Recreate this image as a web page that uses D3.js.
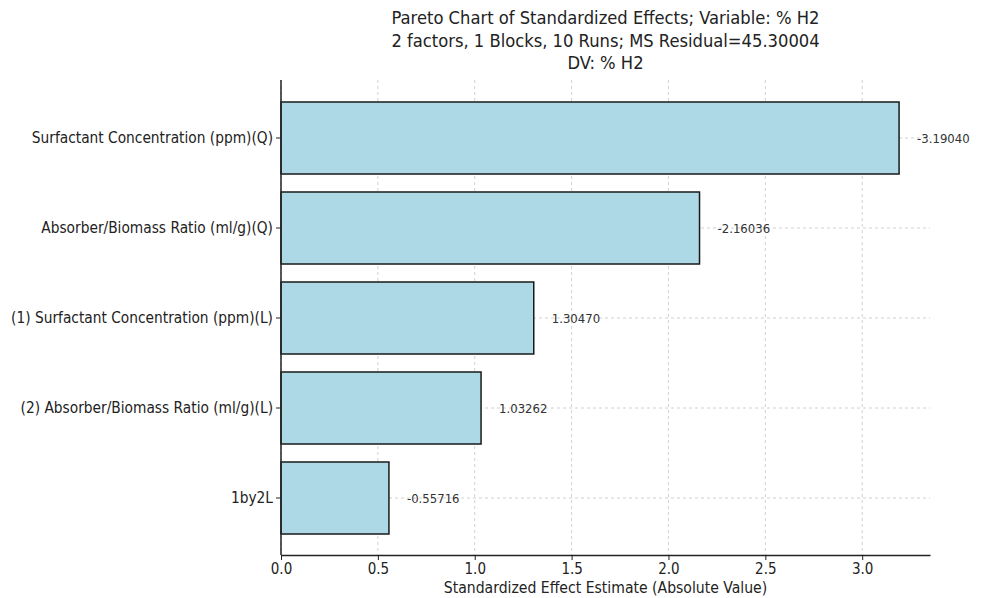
<!DOCTYPE html>
<html>
<head>
<meta charset="utf-8">
<script src="https://cdn.jsdelivr.net/npm/d3@7"></script>
<style>
  body { margin: 0; background: #fff; }
  text { font-family: "DejaVu Sans Condensed", "DejaVu Sans", sans-serif; fill: #222; }
</style>
</head>
<body>
<script>
// effects, sorted by absolute value
const effects = [
  "Surfactant Concentration (ppm)(Q)",
  "Absorber/Biomass Ratio (ml/g)(Q)",
  "(1) Surfactant Concentration (ppm)(L)",
  "(2) Absorber/Biomass Ratio (ml/g)(L)",
  "1by2L"
];
const estimates = [-3.19040, -2.16036, 1.30470, 1.03262, -0.55716];
const xTicks = [0, 0.5, 1.0, 1.5, 2.0, 2.5, 3.0];
const titleLines = [
  "Pareto Chart of Standardized Effects; Variable: % H2",
  "2 factors, 1 Blocks, 10 Runs; MS Residual=45.30004",
  "DV: % H2"
];

let width = 986, height = 598;
let margin = { top: 80, bottom: 43, left: 281, right: 56 };

let svg = d3.select("body").append("svg")
  .attr("width", width)
  .attr("height", height);

let data = effects.map((name, i) => ({ name: name, value: estimates[i] }));

let xScale = d3.scaleLinear()
  .domain([0, 3.35])
  .range([margin.left, width - margin.right]);

let yScale = d3.scaleBand()
  .domain(effects)
  .range([margin.top + 13, height - margin.bottom - 12])
  .paddingInner(0.2)
  .paddingOuter(0.1);

// grid
svg.append("g")
  .selectAll("line")
  .data(xTicks)
  .enter().append("line")
  .attr("x1", d => xScale(d)).attr("x2", d => xScale(d))
  .attr("y1", margin.top).attr("y2", height - margin.bottom)
  .attr("stroke", "#d0d0d0")
  .attr("stroke-dasharray", "3,3");

svg.append("g")
  .selectAll("line")
  .data(effects)
  .enter().append("line")
  .attr("x1", margin.left).attr("x2", width - margin.right)
  .attr("y1", d => yScale(d) + yScale.bandwidth() / 2)
  .attr("y2", d => yScale(d) + yScale.bandwidth() / 2)
  .attr("stroke", "#d0d0d0")
  .attr("stroke-dasharray", "3,3");

// bars
svg.selectAll("rect.bar")
  .data(data)
  .enter().append("rect")
  .attr("class", "bar")
  .attr("x", xScale(0))
  .attr("y", d => yScale(d.name))
  .attr("width", d => xScale(Math.abs(d.value)) - xScale(0))
  .attr("height", yScale.bandwidth())
  .attr("fill", "#add8e6")
  .attr("stroke", "#1a1a1a")
  .attr("stroke-width", 1.5);

// value labels
svg.selectAll("text.val")
  .data(data)
  .enter().append("text")
  .attr("class", "val")
  .attr("x", d => xScale(Math.abs(d.value)) + 18)
  .attr("y", d => yScale(d.name) + yScale.bandwidth() / 2)
  .attr("dy", "0.35em")
  .style("font-size", "13px")
  .style("fill", "#333")
  .text(d => d.value.toFixed(5));

// axes
let xAxis = svg.append("g")
  .attr("transform", `translate(0,${height - margin.bottom})`)
  .call(d3.axisBottom(xScale).tickValues(xTicks).tickFormat(d3.format(".1f")).tickSize(5).tickSizeOuter(0));

let yAxis = svg.append("g")
  .attr("transform", `translate(${margin.left},0)`)
  .call(d3.axisLeft(yScale).tickSize(5).tickSizeOuter(0));

xAxis.select(".domain").attr("stroke", "#222").attr("stroke-width", 1.5);
yAxis.select(".domain").attr("stroke", "#222").attr("stroke-width", 1.5)
  .attr("d", `M0,${margin.top}V${height - margin.bottom}`);
xAxis.selectAll(".tick text").style("font-size", "15px").style("font-family", "DejaVu Sans Condensed, DejaVu Sans, sans-serif").attr("dy", "0.75em");
yAxis.selectAll(".tick text").style("font-size", "15.3px").style("font-family", "DejaVu Sans Condensed, DejaVu Sans, sans-serif");
xAxis.selectAll(".tick line").attr("stroke", "#222");
yAxis.selectAll(".tick line").attr("stroke", "#222");

// axis label
svg.append("text")
  .attr("x", (margin.left + width - margin.right) / 2)
  .attr("y", height - 5)
  .style("text-anchor", "middle")
  .style("font-size", "15.6px")
  .text("Standardized Effect Estimate (Absolute Value)");

// title
svg.append("g").selectAll("text")
  .data(titleLines)
  .enter().append("text")
  .attr("x", (margin.left + width - margin.right) / 2)
  .attr("y", (d, i) => 24 + i * 22.5)
  .style("text-anchor", "middle")
  .style("font-size", "18.2px")
  .text(d => d);
</script>
</body>
</html>
